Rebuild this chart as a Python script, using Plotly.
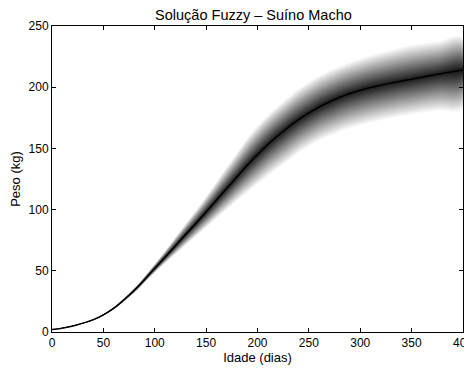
import plotly.graph_objects as go

# Data
idade = [0, 25, 50, 75, 100, 125, 150, 175, 200, 225, 250, 275, 300, 325, 350, 375, 400]
peso_centro = [2, 6, 14, 30, 52, 75, 98, 122, 145, 164, 179, 190, 197.5, 202.5, 206.5, 210.5, 214]
peso_sup = [2, 6.2, 14.5, 31.5, 55.5, 83, 111, 141, 169, 189, 205, 216, 224, 230, 235, 238, 241]
peso_inf = [2, 5.8, 13.5, 28.5, 48.5, 67, 85, 103, 120, 136, 151, 161, 168, 173, 177, 180, 182]

x_ticks = [0, 50, 100, 150, 200, 250, 300, 350, 400]
y_ticks = [0, 50, 100, 150, 200, 250]

N_LEVELS = 40
FONT = "Liberation Sans, Arial, Helvetica, sans-serif"

fig = go.Figure()

# alpha-cut bands, outermost (light) to innermost (dark)
for k in range(N_LEVELS):
    a = k / N_LEVELS
    up = [c + (1 - a) * (u - c) for c, u in zip(peso_centro, peso_sup)]
    lo = [c - (1 - a) * (c - l) for c, l in zip(peso_centro, peso_inf)]
    g = int(round(255 * (1 - a) + 25 * a))
    g = max(0, min(255, g))
    color = f"rgb({g},{g},{g})"
    fig.add_trace(go.Scatter(
        x=idade + idade[::-1],
        y=up + lo[::-1],
        fill="toself",
        fillcolor=color,
        line=dict(width=0, shape="spline", smoothing=1.3),
        mode="lines",
        hoverinfo="skip",
        showlegend=False,
    ))

fig.add_trace(go.Scatter(
    x=idade, y=peso_centro, mode="lines",
    line=dict(color="black", width=1.5, shape="spline", smoothing=1.3),
    showlegend=False,
))

axis_common = dict(
    showgrid=False, zeroline=False, automargin=False,
    showline=True, linecolor="black", linewidth=1, mirror="ticks",
    ticks="inside", ticklen=4, tickwidth=1, tickcolor="black",
    ticklabeloverflow="allow",
    tickfont=dict(family=FONT, size=12, color="black"),
)

# page body has an 8px default margin, so the figure is offset by (8, 8)
fig.update_layout(
    width=472, height=361,
    margin=dict(l=44, r=17, t=18, b=37),
    paper_bgcolor="white", plot_bgcolor="white",
    title=dict(text="Solução Fuzzy – Suíno Macho", x=0.52, xanchor="center", y=0.994, yanchor="top",
               pad=dict(t=0, b=0),
               font=dict(family=FONT, size=14.5, color="black")),
    xaxis=dict(range=[0, 400], tickvals=x_ticks, ticktext=[str(t) for t in x_ticks],
               title=dict(text="Idade (dias)", standoff=1,
                          font=dict(family=FONT, size=13, color="black")),
               **axis_common),
    yaxis=dict(range=[0, 250], tickvals=y_ticks, ticktext=[str(t) for t in y_ticks],
               title=dict(text="Peso (kg)", standoff=6,
                          font=dict(family=FONT, size=13, color="black")),
               **axis_common),
)

fig.write_html("out.html")
